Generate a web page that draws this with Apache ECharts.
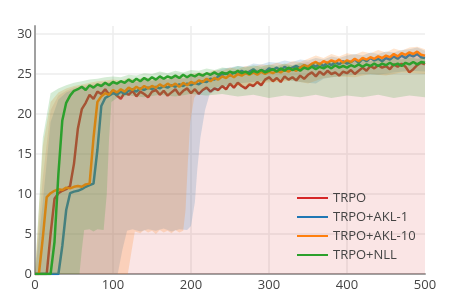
<!DOCTYPE html>
<html><head><meta charset="utf-8">
<script src="https://cdn.jsdelivr.net/npm/echarts@6/dist/echarts.min.js"></script>
<style>html,body{margin:0;padding:0;background:#fff}#c{width:450px;height:300px}</style>
</head><body><div id="c"></div>
<script>
// Legend names
const names = ['TRPO', 'TRPO+AKL-1', 'TRPO+AKL-10', 'TRPO+NLL'];
// mean curves, sampled every 5 steps (0..500)
const trpo = [0,0,0,0,
5.0,9.4,10.1,10.4,10.6,11.0,13.8,18.2,20.6,21.4,22.4,21.9,22.8,22.5,23.1,22.4,22.9,
22.3,21.9,22.7,22.4,22.9,22.2,22.8,22.5,22.1,22.8,23.0,22.4,22.9,22.3,22.7,23.1,22.4,22.9,23.2,22.6,
23.1,22.5,23.0,23.3,22.8,23.2,23.0,23.5,23.1,23.8,23.3,23.9,23.5,23.2,23.7,23.5,24.0,23.6,24.3,24.6,
24.1,24.5,24.0,24.7,24.3,24.6,24.2,24.8,24.4,24.9,25.2,24.7,25.3,24.9,25.4,25.0,25.2,24.8,25.3,25.1,
25.5,25.0,25.4,25.8,25.4,26.0,25.7,26.1,25.8,26.0,25.6,26.2,25.9,26.3,25.9,25.2,25.6,26.1,26.4,26.2];
const akl1 = [0,0,0,0,0,0,0,
3.5,8.0,10.1,10.3,10.4,10.6,10.9,11.1,11.3,15.5,21.0,22.0,22.3,22.6,
22.4,22.8,22.5,22.9,23.1,22.8,23.2,23.0,23.3,23.1,23.4,23.2,23.5,23.3,23.6,23.4,23.7,23.5,23.8,23.6,
23.9,23.7,24.1,24.0,24.4,24.3,24.7,24.9,25.1,24.8,25.2,25.0,25.4,25.1,25.3,25.6,25.2,25.5,25.3,25.7,
25.5,25.8,25.4,25.9,25.6,25.8,26.0,25.7,26.1,25.8,26.2,25.9,26.3,26.0,26.4,26.1,26.5,26.2,26.6,26.3,
26.5,26.8,26.4,26.9,26.6,27.0,26.7,26.9,26.6,27.0,26.8,27.2,26.9,27.3,27.0,27.4,27.2,27.5,27.1,27.0];
const akl10 = [0,0,4.5,9.6,10.1,10.4,10.6,10.5,10.8,10.7,10.9,11.0,10.9,11.2,11.3,17.0,21.5,22.2,22.6,22.4,23.0,
22.7,23.1,22.8,23.3,23.0,23.4,23.1,23.5,23.2,23.5,23.3,23.7,23.4,23.8,23.5,23.8,23.4,23.9,23.6,24.0,
23.8,24.2,24.0,24.4,24.1,24.5,24.3,24.7,24.5,24.9,24.6,25.0,24.8,25.1,24.9,25.2,24.9,25.3,25.0,25.3,
25.1,25.4,25.2,25.5,25.3,25.6,25.4,25.8,26.1,25.9,26.3,26.5,26.2,26.6,26.4,26.7,26.5,26.8,26.4,26.7,
26.5,26.9,26.6,27.0,26.8,27.1,26.9,27.2,27.0,27.3,27.1,27.5,27.2,27.6,27.4,27.7,27.5,27.8,27.4,27.3];
const nll = [0,0,0,0,0,
4.0,12.5,19.2,21.4,22.3,22.9,23.1,23.4,23.0,23.6,23.3,23.7,23.5,23.9,23.6,24.0,
23.8,24.1,23.9,24.3,24.0,24.4,24.1,24.5,24.2,24.6,24.3,24.7,24.4,24.7,24.5,24.8,24.5,24.9,24.6,24.9,
24.7,25.0,24.8,25.1,24.9,25.2,24.9,25.2,25.0,25.3,25.1,25.4,25.1,25.3,25.0,25.4,25.2,25.5,25.2,25.4,
25.6,25.3,25.7,25.4,25.8,25.5,25.7,25.4,25.8,25.6,25.9,25.6,25.9,25.7,26.0,25.7,26.1,25.8,26.0,25.8,
26.1,25.9,26.2,25.9,26.2,26.0,26.3,26.0,26.3,26.1,26.4,26.1,26.3,26.0,26.4,26.2,26.5,26.2,26.5,26.4];
// upper edges of the shaded bands, sampled every 10 steps (0..500)
const trpoUp = [0,12,20.5,22.3,22.9,23.3,23.5,23.7,23.9,24.0,24.1,24.0,24.3,24.1,24.4,24.2,24.5,24.3,24.6,24.4,24.7,24.9,24.7,25.1,25.0,25.4,25.2,25.5,25.6,25.7,25.9,25.8,26.2,26.0,26.3,26.5,26.2,26.7,26.4,26.8,26.6,27.0,26.7,27.1,26.9,27.3,27.0,27.4,27.2,27.6,27.3];
const akl1Up = [0,9,19,21.8,22.7,23.1,23.3,23.5,23.7,23.8,24.0,23.9,24.2,24.0,24.3,24.2,24.5,24.3,24.6,24.5,24.8,24.7,25.1,25.3,25.7,25.8,26.0,25.9,26.3,26.2,26.5,26.4,26.7,26.5,26.8,26.7,27.0,26.8,27.2,27.0,27.3,27.5,27.3,27.7,27.5,27.8,27.7,28.0,28.1,28.3,27.9];
const akl10Up = [0,16,21.5,22.7,23.2,23.5,23.7,23.9,24.1,24.2,24.3,24.2,24.5,24.3,24.6,24.4,24.7,24.6,24.9,24.7,25.0,25.2,25.1,25.5,25.4,25.8,25.6,26.0,25.9,26.2,26.1,26.4,26.2,26.6,26.5,26.9,27.3,27.0,27.5,27.2,27.6,27.4,27.8,27.6,28.0,27.7,28.2,27.9,28.3,28.4,28.1];
const nllUp = [0,17,22.6,23.2,23.6,23.9,24.1,24.3,24.4,24.6,24.7,24.6,24.9,24.8,25.1,25.0,25.3,25.1,25.4,25.2,25.5,25.4,25.7,25.5,25.8,25.7,26.0,25.8,26.1,25.9,26.2,26.0,26.3,26.1,26.4,26.2,26.5,26.3,26.6,26.4,26.7,26.5,26.8,26.6,26.9,26.7,27.0,26.8,27.1,26.9,27.1];
// lower edges of the shaded bands, [step, value]
const trpoLo = [[0,0],[500,0]];
const akl1Lo = [[0,0],[106,0],[112,3],[118,5.4],[125,5.6],[135,5.3],[145,5.6],[155,5.4],[165,5.7],[175,5.3],[185,5.6],[195,5.5],[200,6],[205,9],[208,13],[212,17],[218,20.5],[224,22.5],[240,23.4],[260,23.8],[280,24.0],[300,24.2],[320,24.3],[340,24.0],[360,23.8],[370,24.4],[380,24.6],[400,24.8],[420,25.0],[440,24.9],[460,25.2],[480,25.4],[500,25.3]];
const akl10Lo = [[0,0],[119,0],[124,3],[128,5.3],[135,5.1],[140,5.5],[145,5.2],[150,5.4],[155,5.0],[160,5.5],[165,5.2],[170,5.4],[175,5.1],[180,5.5],[185,5.2],[190,5.4],[193,8],[196,14],[199,19],[204,22],[210,22.8],[230,23.3],[250,23.6],[270,23.5],[290,23.9],[310,24.0],[330,24.2],[350,23.8],[370,24.5],[390,24.7],[410,24.6],[430,25.0],[450,24.8],[470,25.2],[500,25.0]];
const nllLo = [[0,0],[57,0],[60,3],[63,5.5],[70,5.6],[75,5.3],[80,5.6],[88,5.5],[92,10],[95,17],[98,21.5],[105,22.0],[120,22.3],[140,22.1],[160,22.4],[180,22.2],[200,22.5],[220,22.3],[240,22.5],[260,22.2],[280,22.4],[300,22.0],[320,22.3],[340,22.1],[360,22.4],[380,22.0],[400,22.3],[420,22.1],[440,22.4],[460,22.0],[480,22.3],[500,22.1]];
const yTicks = [0, 5, 10, 15, 20, 25, 30];
const xTicks = [0, 100, 200, 300, 400, 500];

const meanStep = 5, bandStep = 10;
const colors = ['#d62728', '#1f77b4', '#ff7f0e', '#2ca02c'];
const bandFill = ['rgba(214,39,40,0.12)', 'rgba(31,119,180,0.18)', 'rgba(255,127,14,0.2)', 'rgba(44,160,44,0.2)'];
const means = [trpo, akl1, akl10, nll];
const ups = [trpoUp, akl1Up, akl10Up, nllUp];
const los = [trpoLo, akl1Lo, akl10Lo, nllLo];

function bandSeries(i) {
  const up = ups[i].map((v, k) => [k * bandStep, v]);
  const lo = los[i];
  return {
    type: 'custom', silent: true, z: 2 + 2 * i, data: [[0, 0]], encode: {x: 0, y: 1},
    renderItem: function (params, api) {
      const pts = [];
      up.forEach(p => pts.push(api.coord(p)));
      for (let k = lo.length - 1; k >= 0; k--) pts.push(api.coord(lo[k]));
      return {type: 'polygon', shape: {points: pts}, style: {fill: bandFill[i]}};
    }
  };
}
function lineSeries(i) {
  return {
    type: 'line', name: names[i], showSymbol: false, symbol: 'none', z: 3 + 2 * i,
    data: means[i].map((v, k) => [k * meanStep, v]),
    lineStyle: {width: 2.5, color: colors[i]}, itemStyle: {color: colors[i]}
  };
}
const series = [];
for (let i = 0; i < 4; i++) { series.push(bandSeries(i)); series.push(lineSeries(i)); }

const font = "'Open Sans', sans-serif";
const chart = echarts.init(document.getElementById('c'), null, {renderer: 'canvas'});
chart.setOption({
  animation: false,
  backgroundColor: '#fff',
  grid: {left: 35, right: 25, top: 26, bottom: 26, containLabel: false},
  xAxis: {
    type: 'value', min: xTicks[0], max: xTicks[xTicks.length - 1], interval: 100,
    axisLine: {show: true, onZero: false, lineStyle: {color: '#a0a0a0', width: 2}},
    axisTick: {show: false},
    axisLabel: {color: '#444', fontSize: 13, fontFamily: font, margin: 5},
    splitLine: {show: true, showMinLine: false, showMaxLine: false, lineStyle: {color: '#ececec', width: 1.5}}
  },
  yAxis: {
    type: 'value', min: yTicks[0], max: 31, interval: 5,
    axisLine: {show: true, lineStyle: {color: '#a0a0a0', width: 2}},
    axisTick: {show: false},
    axisLabel: {color: '#444', fontSize: 13, fontFamily: font, margin: 3, showMaxLabel: false},
    splitLine: {show: true, showMinLine: false, showMaxLine: false, lineStyle: {color: '#ececec', width: 1.5}}
  },
  legend: {
    data: names, orient: 'vertical', left: 292, top: 186, icon: 'rect', z: 20,
    itemWidth: 31, itemHeight: 2, itemGap: 5,
    textStyle: {color: '#444', fontSize: 13, fontFamily: font, lineHeight: 14}
  },
  series: series
});
</script></body></html>
